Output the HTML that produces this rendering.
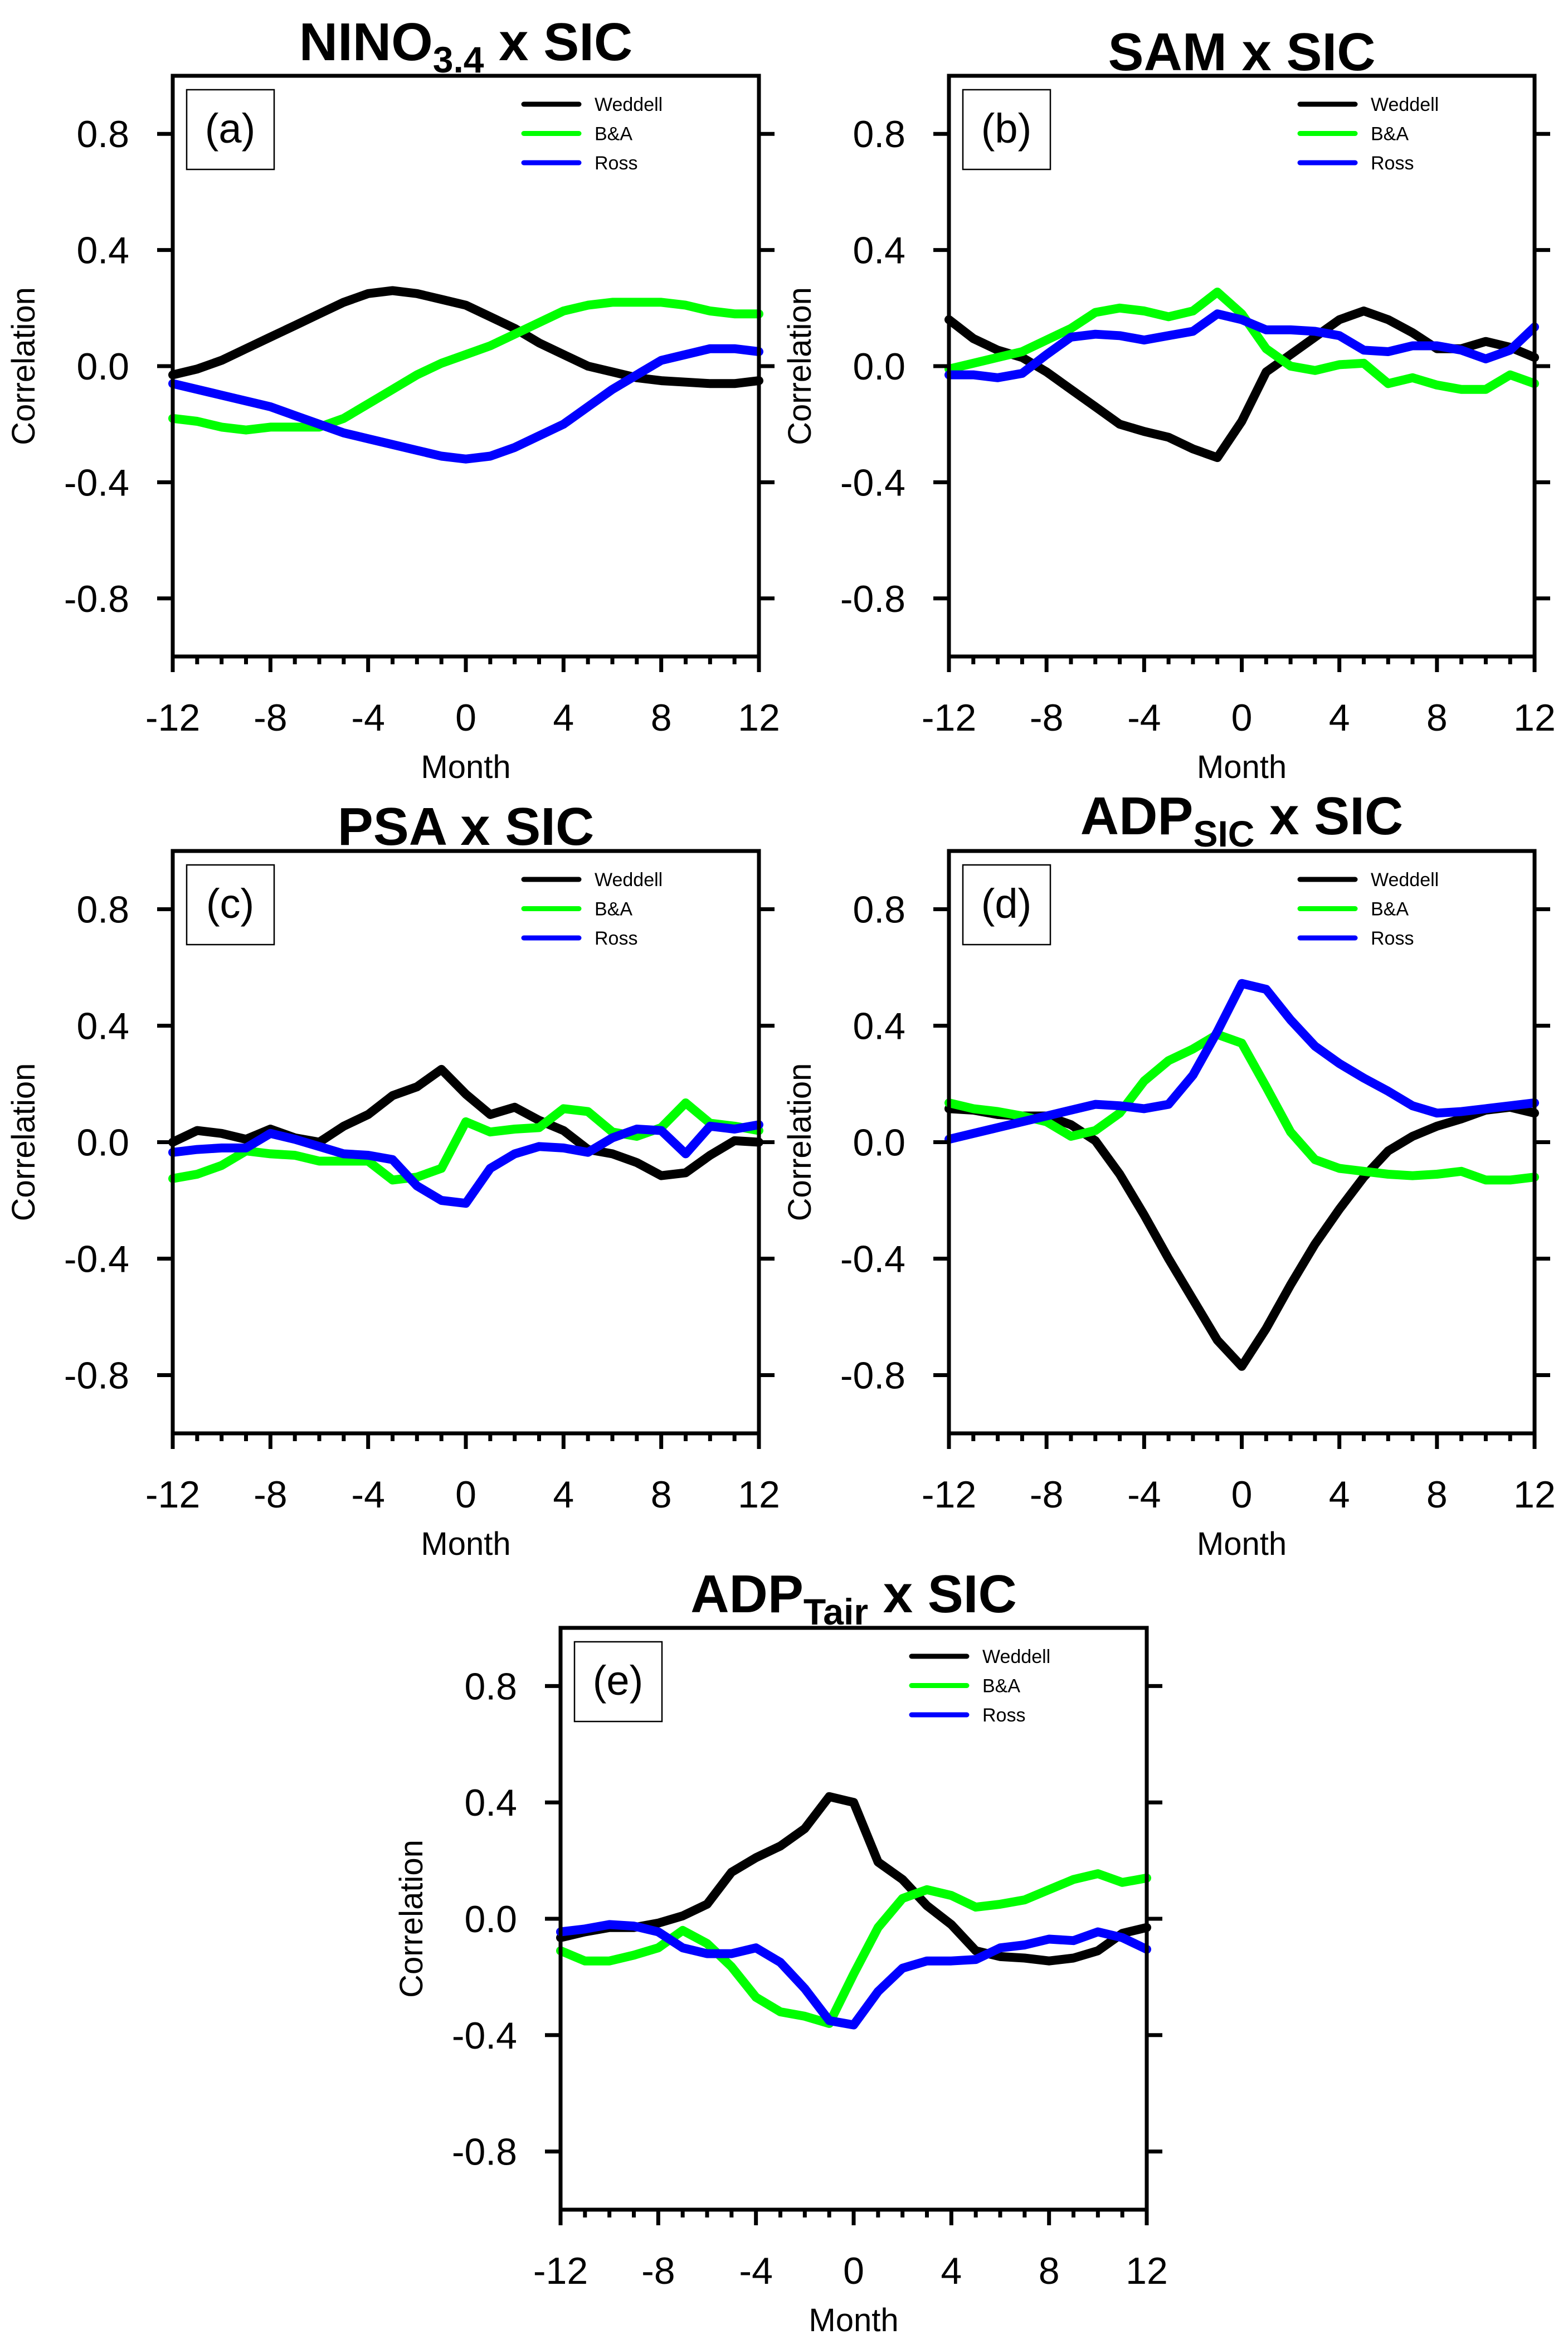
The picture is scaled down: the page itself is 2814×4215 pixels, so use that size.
<!DOCTYPE html>
<html><head><meta charset="utf-8"><style>
html,body{margin:0;padding:0;background:#fff}
svg{display:block}
text{font-family:"Liberation Sans",sans-serif}
</style></head>
<body>
<svg id="fig" width="2814" height="4215" viewBox="0 0 2814 4215" xmlns="http://www.w3.org/2000/svg"></svg>
<script>
const months = [-12,-11,-10,-9,-8,-7,-6,-5,-4,-3,-2,-1,0,1,2,3,4,5,6,7,8,9,10,11,12];
const xTicks = [-12,-8,-4,0,4,8,12];
const xTickLabels = ["-12","-8","-4","0","4","8","12"];
const yTicks = [0.8,0.4,0.0,-0.4,-0.8];
const yTickLabels = ["0.8","0.4","0.0","-0.4","-0.8"];
const seriesNames = ["Weddell","B&A","Ross"];

const aWeddell = [-0.03,-0.01,0.02,0.06,0.10,0.14,0.18,0.22,0.25,0.26,0.25,0.23,0.21,0.17,0.13,0.08,0.04,0.0,-0.02,-0.04,-0.05,-0.055,-0.06,-0.06,-0.05];
const aBA = [-0.18,-0.19,-0.21,-0.22,-0.21,-0.21,-0.21,-0.18,-0.13,-0.08,-0.03,0.01,0.04,0.07,0.11,0.15,0.19,0.21,0.22,0.22,0.22,0.21,0.19,0.18,0.18];
const aRoss = [-0.06,-0.08,-0.10,-0.12,-0.14,-0.17,-0.20,-0.23,-0.25,-0.27,-0.29,-0.31,-0.32,-0.31,-0.28,-0.24,-0.20,-0.14,-0.08,-0.03,0.02,0.04,0.06,0.06,0.05];

const bWeddell = [0.16,0.095,0.055,0.03,-0.02,-0.08,-0.14,-0.20,-0.225,-0.245,-0.285,-0.315,-0.19,-0.02,0.04,0.10,0.16,0.19,0.16,0.115,0.06,0.06,0.085,0.065,0.03];
const bBA = [-0.01,0.01,0.03,0.05,0.09,0.13,0.185,0.20,0.19,0.17,0.19,0.255,0.18,0.06,0.0,-0.015,0.005,0.01,-0.06,-0.04,-0.065,-0.08,-0.08,-0.03,-0.06];
const bRoss = [-0.03,-0.03,-0.04,-0.025,0.04,0.10,0.11,0.105,0.09,0.105,0.12,0.18,0.16,0.125,0.125,0.12,0.105,0.055,0.05,0.07,0.07,0.055,0.025,0.055,0.135];

const cWeddell = [0.0,0.04,0.03,0.01,0.045,0.015,0.0,0.055,0.095,0.16,0.19,0.25,0.165,0.095,0.12,0.075,0.04,-0.025,-0.04,-0.07,-0.115,-0.105,-0.045,0.005,0.0];
const cBA = [-0.125,-0.11,-0.08,-0.03,-0.04,-0.045,-0.065,-0.065,-0.065,-0.13,-0.12,-0.09,0.07,0.035,0.045,0.05,0.115,0.105,0.035,0.02,0.05,0.135,0.065,0.055,0.04];
const cRoss = [-0.035,-0.025,-0.02,-0.02,0.03,0.01,-0.015,-0.04,-0.045,-0.06,-0.15,-0.20,-0.21,-0.09,-0.04,-0.015,-0.02,-0.035,0.015,0.045,0.04,-0.04,0.055,0.045,0.06];

const dWeddell = [0.115,0.11,0.095,0.09,0.09,0.06,0.005,-0.11,-0.25,-0.40,-0.54,-0.68,-0.77,-0.64,-0.49,-0.35,-0.23,-0.12,-0.03,0.02,0.055,0.08,0.11,0.12,0.10];
const dBA = [0.135,0.115,0.105,0.09,0.07,0.02,0.04,0.10,0.21,0.28,0.32,0.37,0.34,0.19,0.035,-0.06,-0.09,-0.10,-0.11,-0.115,-0.11,-0.10,-0.13,-0.13,-0.12];
const dRoss = [0.01,0.03,0.05,0.07,0.09,0.11,0.13,0.125,0.115,0.13,0.23,0.38,0.545,0.525,0.42,0.33,0.27,0.22,0.175,0.125,0.10,0.105,0.115,0.125,0.135];

const eWeddell = [-0.065,-0.045,-0.03,-0.03,-0.015,0.01,0.05,0.16,0.21,0.25,0.31,0.42,0.40,0.195,0.135,0.045,-0.02,-0.11,-0.13,-0.135,-0.145,-0.135,-0.11,-0.05,-0.03];
const eBA = [-0.11,-0.145,-0.145,-0.125,-0.10,-0.04,-0.085,-0.165,-0.27,-0.32,-0.335,-0.36,-0.19,-0.03,0.07,0.10,0.08,0.04,0.05,0.065,0.10,0.135,0.155,0.125,0.14];
const eRoss = [-0.045,-0.035,-0.02,-0.025,-0.045,-0.10,-0.12,-0.12,-0.10,-0.15,-0.24,-0.35,-0.365,-0.25,-0.17,-0.145,-0.145,-0.14,-0.10,-0.09,-0.07,-0.075,-0.045,-0.065,-0.105];

const colors = ["#000000","#00ff00","#0000ff"];
const NS = "http://www.w3.org/2000/svg";
const svg = document.getElementById("fig");
function mk(tag, attrs, parent){const e=document.createElementNS(NS,tag);for(const k in attrs)e.setAttribute(k,attrs[k]);(parent||svg).appendChild(e);return e;}

const panels = [
 {id:"a",L:310,T:136,W:1052,H:1042,tOff:28,title:["NINO","3.4"," x SIC"],series:[aWeddell,aBA,aRoss]},
 {id:"b",L:1703,T:136,W:1051,H:1042,tOff:10,title:["SAM x SIC","",""],series:[bWeddell,bBA,bRoss]},
 {id:"c",L:310,T:1527,W:1052,H:1045,tOff:11,title:["PSA x SIC","",""],series:[cWeddell,cBA,cRoss]},
 {id:"d",L:1703,T:1527,W:1051,H:1045,tOff:30,title:["ADP","SIC"," x SIC"],series:[dWeddell,dBA,dRoss]},
 {id:"e",L:1006,T:2921,W:1052,H:1044,tOff:28,title:["ADP","Tair"," x SIC"],series:[eWeddell,eBA,eRoss]}
];

panels.forEach(p=>{
  const g = mk("g",{});
  
  
  const xs = m => p.L + (m+12)/24*p.W;
  const ys = v => p.T + (1-v)/2*p.H;
  const R = p.L+p.W, B = p.T+p.H;
  const t = mk("text",{x:p.L+p.W/2,y:p.T-p.tOff,"text-anchor":"middle","font-size":"96","font-weight":"bold"},g);
  
  
  t.appendChild(document.createTextNode(p.title[0]));
  if(p.title[1]){
    const s=mk("tspan",{dy:"22","font-size":"66"},t); s.textContent=p.title[1];
    const r=mk("tspan",{dy:"-22"},t); r.textContent=p.title[2];
  }
  p.series.forEach((vals,si)=>{
    const pts = months.map((m,i)=>xs(m).toFixed(1)+","+ys(vals[i]).toFixed(1)).join(" ");
    const pl = mk("polyline",{points:pts,fill:"none",stroke:colors[si],"stroke-width":"16","stroke-linejoin":"round","stroke-linecap":"round"},g);
    
    
  });
  const fr = mk("rect",{x:p.L,y:p.T,width:p.W,height:p.H,fill:"none",stroke:"#000","stroke-width":"7"},g);
  
  
  yTicks.forEach((v,i)=>{
    const y=ys(v);
    mk("line",{x1:p.L-28,y1:y,x2:p.L,y2:y,stroke:"#000","stroke-width":"7"},g);
    mk("line",{x1:R,y1:y,x2:R+28,y2:y,stroke:"#000","stroke-width":"7"},g);
    const lt = mk("text",{x:p.L-78,y:y+24,"text-anchor":"end","font-size":"68"},g);
    
    
    lt.textContent=yTickLabels[i];
  });
  months.forEach(m=>{
    const major = xTicks.indexOf(m)>=0;
    mk("line",{x1:xs(m),y1:B,x2:xs(m),y2:B+(major?28:14),stroke:"#000","stroke-width":"7"},g);
  });
  xTicks.forEach((m,i)=>{
    const lt = mk("text",{x:xs(m),y:B+133,"text-anchor":"middle","font-size":"68"},g);
    
    
    lt.textContent=xTickLabels[i];
  });
  const xt = mk("text",{x:p.L+p.W/2,y:B+218,"text-anchor":"middle","font-size":"58"},g);
  
  
  xt.textContent="Month";
  const cy = ys(0), cx = p.L-268;
  const yt = mk("text",{x:cx,y:cy,"text-anchor":"middle","font-size":"58",transform:"rotate(-90 "+cx+" "+cy+")",dy:"20"},g);
  
  
  yt.textContent="Correlation";
  const lb = mk("rect",{x:p.L+25,y:p.T+25,width:157,height:143,fill:"#fff",stroke:"#000","stroke-width":"2.5"},g);
  
  
  const lt = mk("text",{x:p.L+103,y:p.T+120,"text-anchor":"middle","font-size":"74"},g);
  
  
  lt.textContent="("+p.id+")";
  seriesNames.forEach((n,si)=>{
    const y = p.T+51+si*52.5;
    const ll = mk("line",{x1:p.L+630,y1:y,x2:p.L+729,y2:y,stroke:colors[si],"stroke-width":"9","stroke-linecap":"round"},g);
    
    
    const tx = mk("text",{x:p.L+757,y:y+12,"font-size":"34"},g);
    
    
    tx.textContent=n;
  });
});
</script>
</body></html>
